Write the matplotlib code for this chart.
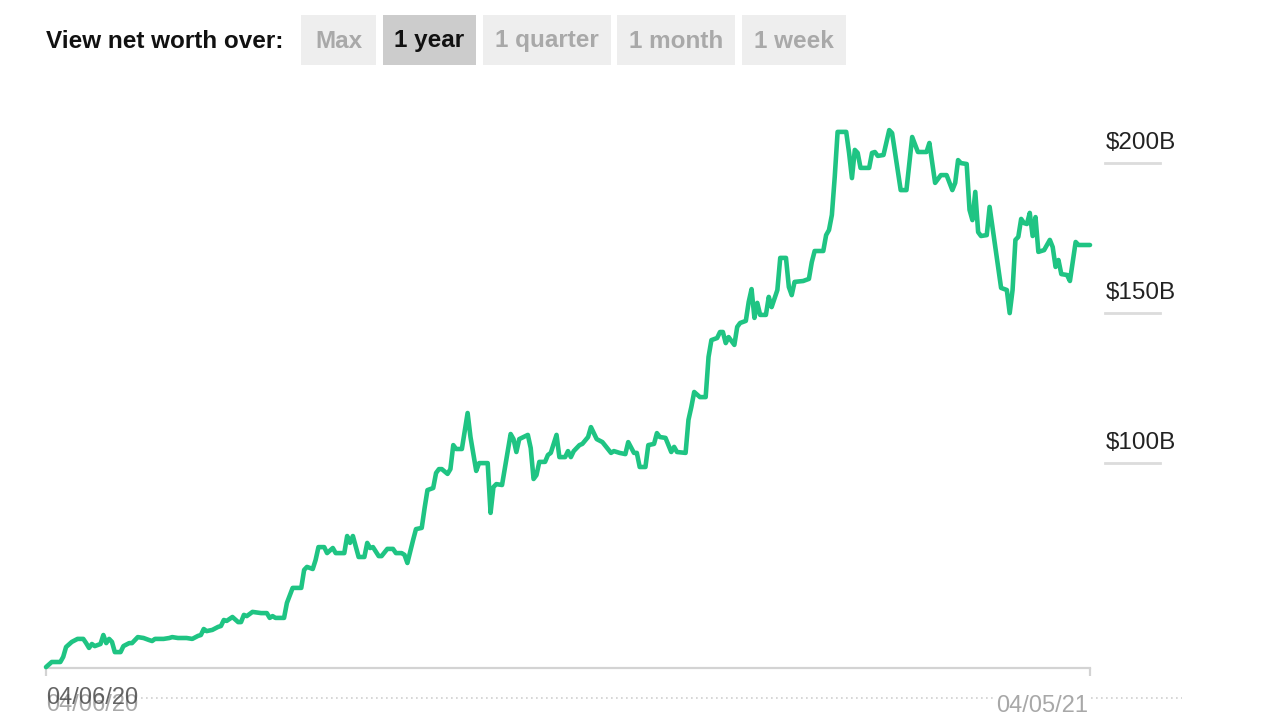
import matplotlib
matplotlib.use("Agg")
import matplotlib.pyplot as plt
import matplotlib.transforms as mtransforms
from matplotlib.lines import Line2D
from matplotlib.patches import Rectangle
import pandas as pd

plt.rcParams['font.family'] = ['Liberation Sans', 'DejaVu Sans']

# ---------------- data ----------------
start_date = "2020-04-06"
end_date = "2021-04-05"
# day offsets from start_date and net worth in $B
days = [0, 2, 5, 6, 7, 9, 11, 13, 14, 15, 16, 17, 19, 20, 21, 22, 23, 24, 26, 27,
        29, 30, 32, 34, 36, 37, 38, 41, 43, 44, 46, 49, 51, 53, 54, 55, 56, 58, 60, 61,
        62, 63, 65, 67, 68, 69, 70, 72, 75, 77, 78, 79, 80, 83, 84, 86, 89, 90, 91, 93,
        94, 95, 97, 98, 100, 101, 104, 105, 106, 107, 109, 111, 112, 113, 114, 116, 117, 119, 121, 122,
        124, 125, 126, 128, 129, 131, 132, 133, 135, 136, 137, 138, 140, 141, 142, 143, 145, 147, 148, 150,
        151, 154, 155, 156, 157, 159, 162, 163, 164, 165, 168, 169, 170, 171, 172, 174, 175, 176, 178, 179,
        181, 182, 183, 184, 186, 187, 189, 190, 192, 194, 197, 198, 200, 202, 203, 205, 206, 207, 209, 210,
        212, 213, 214, 216, 218, 219, 220, 223, 224, 225, 226, 228, 230, 231, 232, 234, 235, 236, 237, 238,
        240, 241, 242, 244, 245, 246, 247, 248, 249, 251, 252, 253, 255, 256, 258, 259, 260, 261, 264, 266,
        267, 268, 271, 272, 273, 274, 275, 276, 279, 280, 281, 282, 283, 284, 287, 288, 289, 290, 292, 294,
        295, 298, 300, 302, 304, 307, 308, 310, 312, 314, 316, 317, 318, 319, 321, 322, 323, 324, 325, 326,
        328, 329, 331, 333, 335, 336, 337, 338, 339, 340, 341, 342, 343, 344, 345, 346, 348, 350, 351, 352,
        353, 354, 356, 357, 359, 360, 364]
net_worth = [25.3, 27.0, 27.0, 28.7, 32.0, 33.7, 34.7, 34.7, 33.3, 31.7, 33.0, 32.3, 33.0, 36.0, 33.3, 34.7, 33.7, 30.3, 30.3, 32.3,
             33.3, 33.3, 35.3, 35.0, 34.3, 34.0, 34.7, 34.7, 35.0, 35.3, 35.0, 35.0, 34.7, 35.7, 36.0, 38.0, 37.3, 37.7, 38.7, 39.0,
             41.0, 40.7, 42.0, 40.3, 40.3, 42.7, 42.3, 43.7, 43.3, 43.3, 41.7, 42.3, 41.7, 41.7, 46.7, 51.7, 51.7, 57.7, 58.7, 58.0,
             61.0, 65.3, 65.3, 63.3, 65.0, 63.3, 63.3, 69.0, 66.7, 69.0, 62.0, 62.0, 66.7, 65.0, 65.3, 62.3, 62.3, 64.7, 64.7, 63.3,
             63.3, 62.7, 60.0, 67.7, 71.3, 71.7, 78.3, 84.3, 85.0, 90.0, 91.3, 91.3, 89.7, 91.3, 99.3, 98.0, 98.0, 110.0, 102.0, 90.7,
             93.3, 93.3, 76.7, 85.3, 86.3, 86.0, 103.0, 101.3, 97.0, 101.3, 102.7, 98.3, 88.0, 89.3, 93.7, 93.7, 96.0, 96.7, 102.7, 95.3,
             95.3, 97.3, 95.3, 97.3, 99.3, 99.7, 102.0, 105.3, 101.3, 100.3, 96.7, 97.3, 96.7, 96.3, 100.3, 96.7, 96.7, 92.0, 92.0, 99.3,
             99.7, 103.3, 102.0, 101.7, 97.0, 98.7, 97.0, 96.7, 107.7, 112.0, 117.0, 115.3, 115.3, 128.7, 134.3, 135.0, 137.0, 137.0, 133.3, 135.3,
             132.7, 138.7, 140.0, 140.7, 147.0, 151.3, 141.7, 146.7, 142.7, 142.7, 148.7, 145.3, 151.0, 161.7, 161.7, 152.0, 149.3, 153.7, 154.0, 154.7,
             160.3, 164.0, 164.0, 169.3, 171.0, 176.0, 188.7, 203.7, 203.7, 196.7, 188.3, 197.7, 196.7, 191.7, 191.7, 196.7, 197.0, 195.7, 196.0, 204.3,
             203.3, 184.3, 184.3, 202.0, 197.0, 197.0, 200.0, 186.7, 189.3, 189.3, 184.3, 186.7, 194.3, 193.3, 193.0, 177.7, 174.3, 183.7, 170.3, 169.0,
             169.3, 178.7, 165.3, 151.7, 151.0, 143.3, 151.0, 167.7, 168.7, 174.7, 173.3, 173.0, 176.7, 169.0, 175.3, 163.7, 164.3, 167.7, 165.3, 158.7,
             161.0, 156.3, 156.0, 154.0, 167.0, 166.0, 166.0]
y_ticks = [100, 150, 200]
y_tick_labels = ["$100B", "$150B", "$200B"]
date_labels = ["04/06/20", "04/05/21"]
periods = ["Max", "1 year", "1 quarter", "1 month", "1 week"]
selected_period = "1 year"
title_text = "View net worth over:"

# ---------------- figure ----------------
W, H = 1280, 720
fig = plt.figure(figsize=(W / 100, H / 100), dpi=100)
fig.patch.set_facecolor("white")

def fx(px):
    return px / W

def fy(py):
    return 1 - py / H

ax = fig.add_axes([fx(46), fy(668), fx(1090) - fx(46), fy(110) - fy(668)])
t0 = pd.Timestamp(start_date)
t1 = pd.Timestamp(end_date)
dates = [t0 + pd.Timedelta(days=d) for d in days]

green = "#1fc483"
ax.plot(dates, net_worth, color=green, lw=3.3, solid_joinstyle="round",
        solid_capstyle="round", clip_on=False, zorder=3)
ax.set_xlim(t0, t1)
ax.set_ylim(25, 211)

for s in ["top", "left", "right"]:
    ax.spines[s].set_visible(False)
ax.spines["bottom"].set_color("#d3d3d3")
ax.spines["bottom"].set_linewidth(1.6)
ax.set_xticks([t0, t1])
ax.set_xticklabels(["", ""])
ax.tick_params(axis="x", direction="out", length=6, width=1.6, color="#d3d3d3")
ax.set_yticks([])

# right-side value labels with short underlines
blend = mtransforms.blended_transform_factory(ax.transAxes, ax.transData)
ax_w = 1044
lab_x = (1106 - 46) / ax_w
ul0 = (1105 - 46) / ax_w
ul1 = (1160 - 46) / ax_w
ul_trans = mtransforms.offset_copy(blend, fig=fig, y=-20, units="dots")
for v, lab in zip(y_ticks, y_tick_labels):
    ax.text(lab_x, v, lab, transform=blend, ha="left", va="center",
            fontsize=17.5, color="#222222", clip_on=False)
    ax.add_line(Line2D([ul0, ul1], [v, v], transform=ul_trans, color="#dcdcdc",
                       lw=2, clip_on=False))

# dotted baseline under dates
fig.add_artist(Line2D([fx(46), fx(1182)], [fy(698), fy(698)], color="#cfcfcf",
                      lw=1.2, linestyle=(0, (1, 2)), zorder=1))

# date labels (with the ghosted start label)
fig.text(fx(46), fy(705), date_labels[0], ha="left", va="center", fontsize=17,
         color="#a8a8a8", zorder=2,
         bbox=dict(facecolor="white", edgecolor="none", pad=1))
fig.text(fx(46), fy(698), date_labels[0], ha="left", va="center", fontsize=17,
         color="#4a4a4a", alpha=0.85, zorder=3)
fig.text(fx(1088), fy(706), date_labels[1], ha="right", va="center", fontsize=17,
         color="#a8a8a8", zorder=2,
         bbox=dict(facecolor="white", edgecolor="none", pad=1))

# top selector
fig.text(fx(46), fy(41), title_text, ha="left", va="center", fontsize=17.5,
         fontweight="bold", color="#111111")
box_left = [301, 383, 483, 617, 742]
box_right = [376, 476, 611, 735, 846]
for p, l, r in zip(periods, box_left, box_right):
    sel = (p == selected_period)
    fig.add_artist(Rectangle((fx(l), fy(65)), fx(r) - fx(l), fy(15) - fy(65),
                             transform=fig.transFigure,
                             facecolor="#cccccc" if sel else "#eeeeee",
                             edgecolor="none", zorder=1))
    fig.text(fx((l + r) / 2), fy(41), p, ha="center", va="center", fontsize=17.5,
             fontweight="bold", color="#111111" if sel else "#a9a9a9", zorder=2)

fig.savefig("out.png", dpi=100, facecolor="white")
